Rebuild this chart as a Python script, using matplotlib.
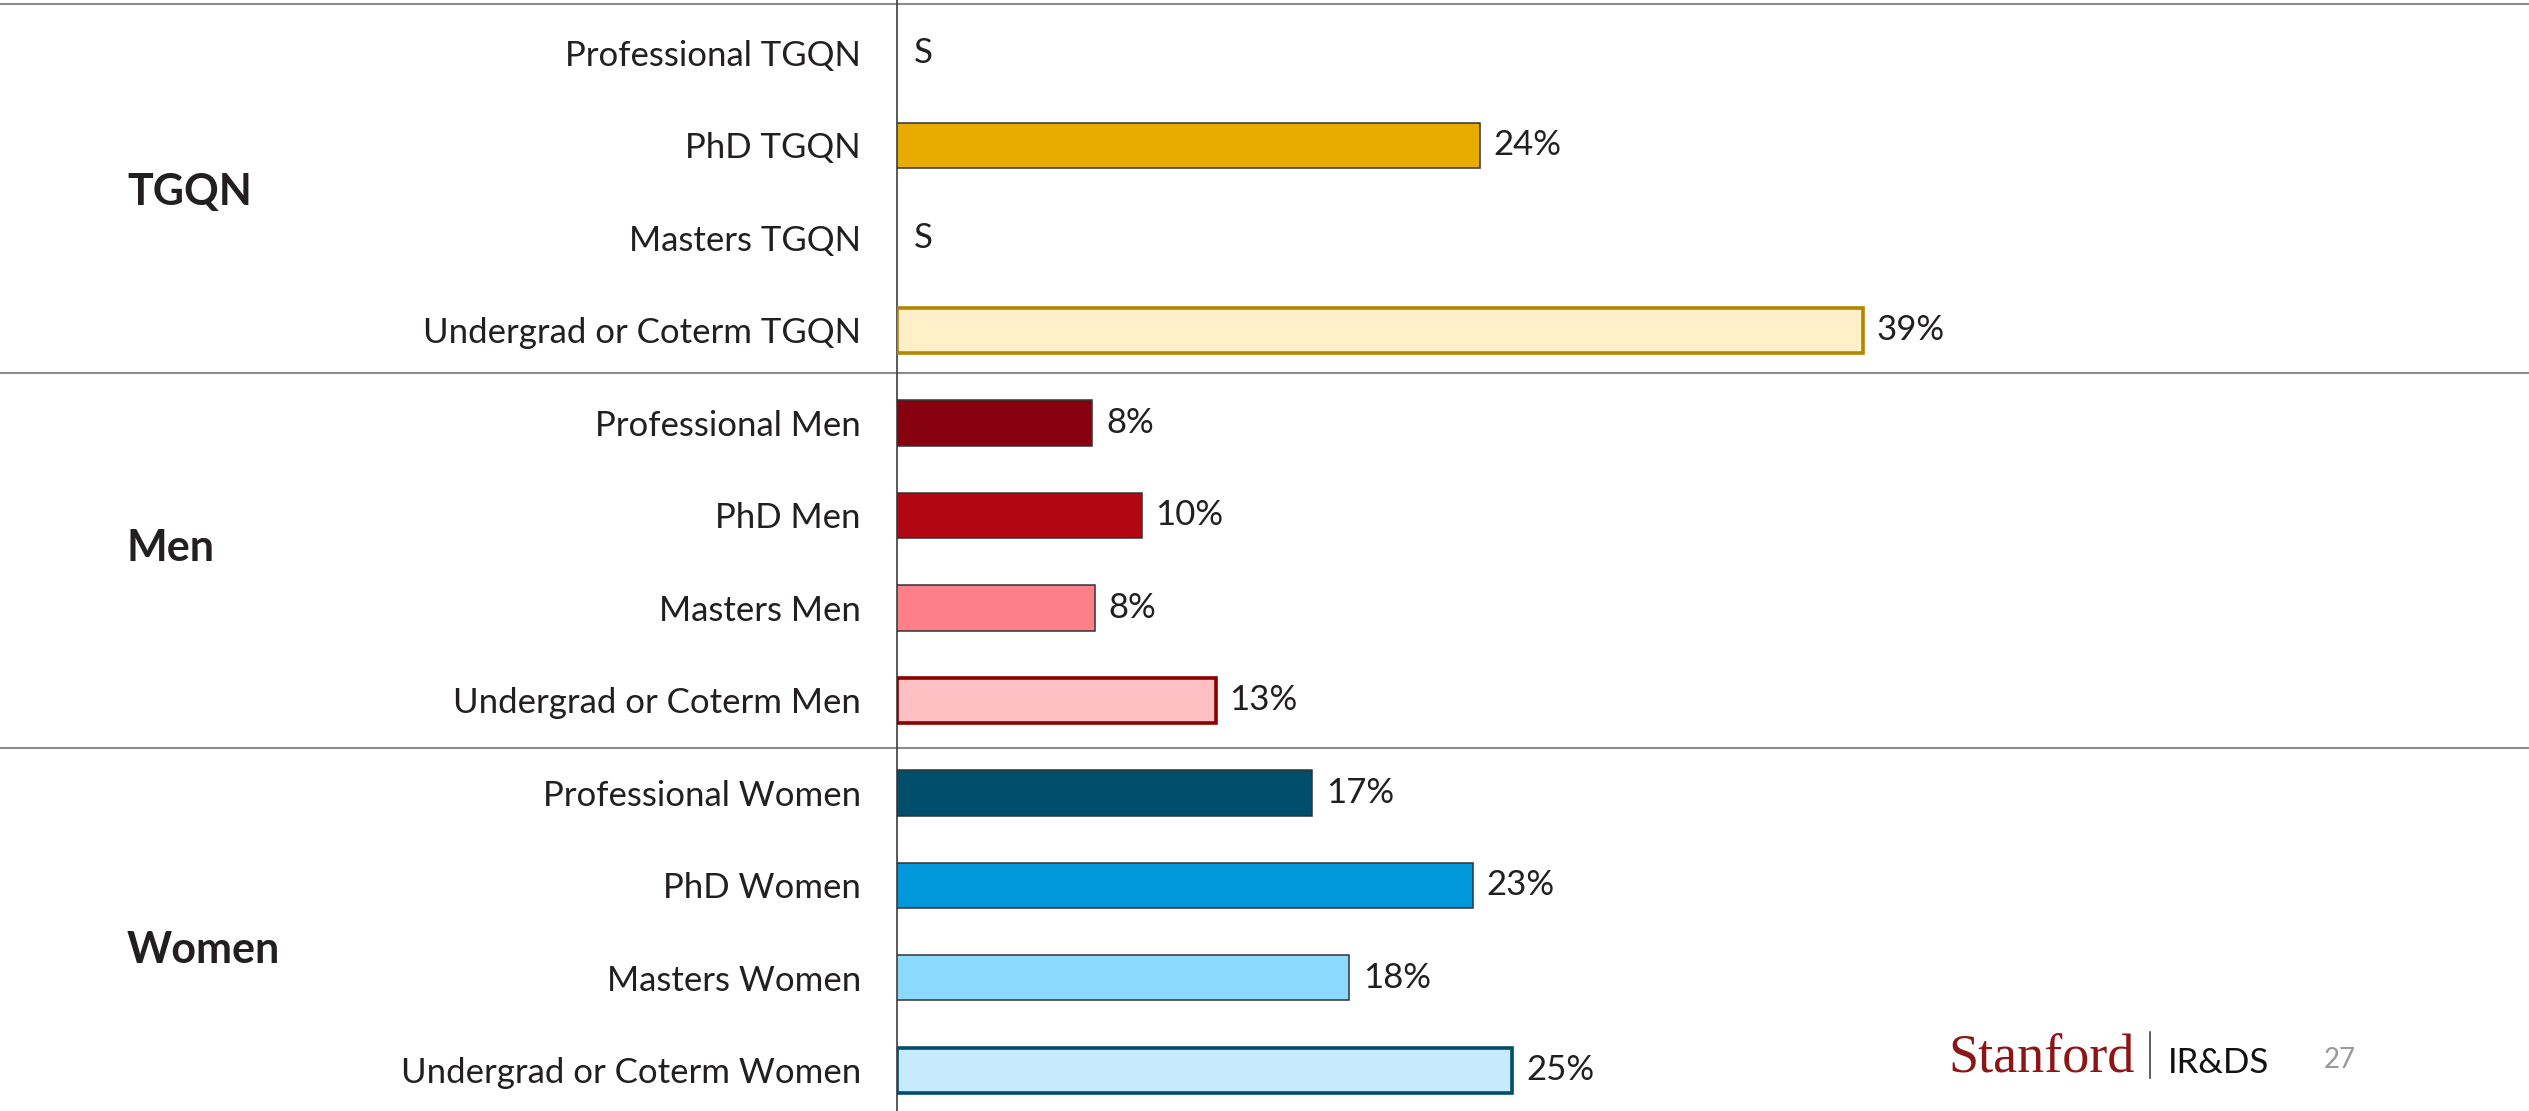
import matplotlib
matplotlib.use("Agg")
import matplotlib.pyplot as plt
from matplotlib.transforms import blended_transform_factory

# Data (top to bottom), None = suppressed ("S")
labels = ["Professional TGQN", "PhD TGQN", "Masters TGQN", "Undergrad or Coterm TGQN",
          "Professional Men", "PhD Men", "Masters Men", "Undergrad or Coterm Men",
          "Professional Women", "PhD Women", "Masters Women", "Undergrad or Coterm Women"]
# bar lengths; the printed labels are these rounded
values = [None, 23.6, None, 39.1,
          7.9, 9.9, 8.0, 12.9,
          16.8, 23.3, 18.3, 24.9]
fills = ["#E8AB00", "#E8AB00", "#E8AB00", "#FFF0C9",
         "#870010", "#B30613", "#FC8088", "#FEC0C2",
         "#004D6C", "#0098DB", "#8BD9FD", "#C6EBFD"]
groups = ["TGQN", "Men", "Women"]
group_edge = ["#B38600", "#8B0000", "#004D6C"]

text_col = "#231F20"
font = "Lato"
fs = 25

W, H = 2529, 1111
fig = plt.figure(figsize=(W / 100, H / 100), dpi=100)
ax = fig.add_axes([897 / W, 0, 1 - 897 / W, 1])

rows = list(range(len(labels)))
for i, v in enumerate(values):
    g = i // 4
    undergrad = (i % 4 == 3)
    if v is None:
        ax.annotate("S", (0, i), xytext=(12, 0), textcoords="offset points",
                    va="center", ha="left", fontsize=fs, family=font, color=text_col)
        continue
    ax.barh(i, v, height=0.49, color=fills[i],
            edgecolor=group_edge[g] if undergrad else "#333333",
            linewidth=2.6 if undergrad else 1.1, zorder=3)
    ax.annotate(f"{v:.0f}%", (v, i), xytext=(10, 0), textcoords="offset points",
                va="center", ha="left", fontsize=fs, family=font, color=text_col)

ax.set_xlim(0, (W - 897) / 24.7)
ax.set_ylim(11.44, -0.573)
ax.set_yticks(rows)
ax.set_yticklabels(labels, fontsize=fs, family=font, color=text_col)
ax.tick_params(axis="y", length=0, pad=26)
ax.set_xticks([])
for s in ["top", "right", "bottom"]:
    ax.spines[s].set_visible(False)
ax.spines["left"].set_color("#3D3D3D")
ax.spines["left"].set_linewidth(1.2)

# group separators across the whole slide
tr = blended_transform_factory(fig.transFigure, ax.transData)
for y in [-0.53, 3.46, 7.51]:
    ax.plot([0, 1], [y, y], transform=tr, color="#8C8C8C", lw=1.5, clip_on=False, zorder=1)

# group titles
for name, y in zip(groups, [1.5, 5.35, 9.7]):
    fig.text(127 / W, y, name, transform=tr, ha="left", va="center",
             fontsize=31, fontweight="bold", family=font, color=text_col)

# footer
fig.text(1948 / W, 1 - 1072 / H, "Stanford", family="Liberation Serif", fontsize=39,
         color="#8C1515", va="baseline", ha="left")
fig.add_artist(plt.Line2D([2150 / W, 2150 / W], [1 - 1078 / H, 1 - 1032 / H],
                          color="#333333", lw=1.1))
fig.text(2168 / W, 1 - 1073 / H, "IR&DS", family=font, fontsize=25,
         color="#111111", va="baseline", ha="left")
fig.text(2324 / W, 1 - 1068 / H, "27", family=font, fontsize=20,
         color="#999999", va="baseline", ha="left")

fig.savefig("out.png", dpi=100)
